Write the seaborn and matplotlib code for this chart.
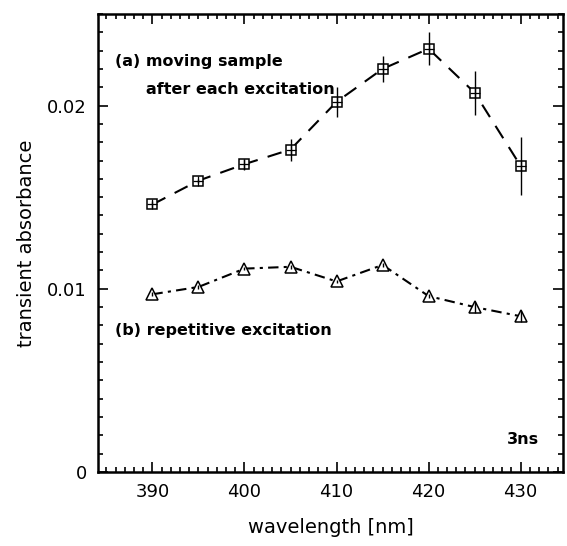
import numpy as np
import matplotlib
matplotlib.use('Agg')
import matplotlib.pyplot as plt
import matplotlib.ticker as mticker
import seaborn as sns

wavelength = [390, 395, 400, 405, 410, 415, 420, 425, 430]
moving     = [0.0146, 0.0159, 0.0168, 0.0176, 0.0202, 0.0220, 0.0231, 0.0207, 0.0167]
moving_err = [0.0002, 0.0001, 0.0003, 0.0006, 0.0008, 0.0007, 0.0009, 0.0012, 0.0016]
repet      = [0.0097, 0.0101, 0.0111, 0.0112, 0.0104, 0.0113, 0.0096, 0.0090, 0.0085]
repet_err  = [0.0001, 0.0001, 0.0001, 0.0001, 0.0001, 0.0001, 0.0001, 0.0003, 0.0003]

sns.set_style('ticks')
plt.rcParams['font.family'] = ['DejaVu Sans']
plt.rcParams['text.color'] = 'black'
plt.rcParams['axes.labelcolor'] = 'black'
plt.rcParams['xtick.color'] = 'black'
plt.rcParams['ytick.color'] = 'black'
plt.rcParams['axes.edgecolor'] = 'black'

fig = plt.figure(figsize=(5.67, 5.46), dpi=100)
ax = fig.add_axes([0.173, 0.1355, 0.82, 0.839])

sns.lineplot(x=wavelength, y=moving, ax=ax, color='black', linewidth=1.5,
             dashes=False, linestyle=(0, (7, 5)), marker='s', markersize=7,
             markerfacecolor='white', markeredgecolor='black', markeredgewidth=1.1)
ax.errorbar(wavelength, moving, yerr=moving_err, fmt='none', ecolor='black', elinewidth=1.0)
ax.plot(wavelength, moving, linestyle='none', marker='+', markersize=7, color='black', markeredgewidth=0.9)

sns.lineplot(x=wavelength, y=repet, ax=ax, color='black', linewidth=1.5,
             dashes=False, linestyle=(0, (5, 2.5, 1.5, 2.5)), marker='^', markersize=8,
             markerfacecolor='white', markeredgecolor='black', markeredgewidth=1.1)
ax.errorbar(wavelength, repet, yerr=repet_err, fmt='none', ecolor='black', elinewidth=1.0)

ax.set_xlim(384.1, 434.6)
ax.set_ylim(0, 0.025)
ax.xaxis.set_major_locator(mticker.MultipleLocator(10))
ax.xaxis.set_minor_locator(mticker.MultipleLocator(1))
ax.yaxis.set_major_locator(mticker.FixedLocator([0, 0.01, 0.02]))
ax.yaxis.set_minor_locator(mticker.MultipleLocator(0.001))
ax.yaxis.set_major_formatter(mticker.FuncFormatter(lambda v, p: '0' if v == 0 else f'{v:.2f}'))
ax.tick_params(which='both', direction='in', top=True, right=True, width=1.2)
ax.tick_params(which='major', length=7, labelsize=13, pad=8)
ax.tick_params(which='minor', length=3.5)
for s in ax.spines.values():
    s.set_linewidth(1.8)

ax.set_xlabel('wavelength [nm]', fontsize=14, labelpad=12)
ax.set_ylabel('transient absorbance', fontsize=14, labelpad=8)

ax.text(385.9, 0.0224, '(a) moving sample', fontsize=11.5, fontweight='bold', va='center')
ax.text(389.3, 0.0209, 'after each excitation', fontsize=11.5, fontweight='bold', va='center')
ax.text(385.9, 0.0077, '(b) repetitive excitation', fontsize=11.5, fontweight='bold', va='center')
ax.text(428.5, 0.0018, '3ns', fontsize=11.5, fontweight='bold', va='center')

fig.savefig('out.png', dpi=100)
